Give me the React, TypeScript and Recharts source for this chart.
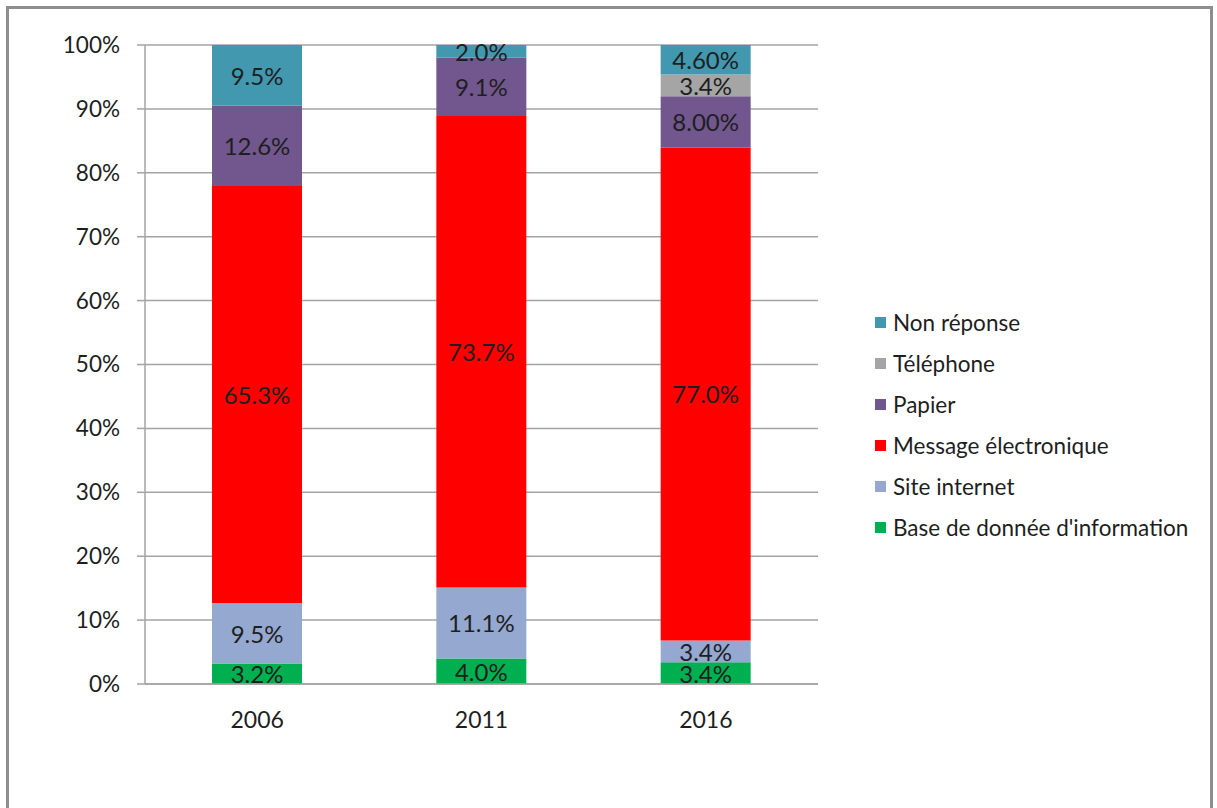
import React from 'react';
import { ComposedChart, Bar, XAxis, YAxis, CartesianGrid, LabelList, Legend } from 'recharts';

const years = ['2006', '2011', '2016'];
const baseInfo = [3.2, 4.0, 3.4];
const siteInternet = [9.5, 11.1, 3.4];
const message = [65.3, 73.7, 77.0];
const papier = [12.6, 9.1, 8.0];
const telephone = [0, 0, 3.4];
const nonReponse = [9.5, 2.0, 4.6];

const baseLabels = ['3.2%', '4.0%', '3.4%'];
const siteLabels = ['9.5%', '11.1%', '3.4%'];
const messageLabels = ['65.3%', '73.7%', '77.0%'];
const papierLabels = ['12.6%', '9.1%', '8.00%'];
const telephoneLabels = ['', '', '3.4%'];
const nonReponseLabels = ['9.5%', '2.0%', '4.60%'];

const yTicks = [0, 0.1, 0.2, 0.3, 0.4, 0.5, 0.6, 0.7, 0.8, 0.9, 1];

const series = [
  { key: 'base', name: "Base de donnée d'information", color: '#00B050', values: baseInfo, labels: baseLabels },
  { key: 'site', name: 'Site internet', color: '#94A8D0', values: siteInternet, labels: siteLabels },
  { key: 'message', name: 'Message électronique', color: '#FF0000', values: message, labels: messageLabels },
  { key: 'papier', name: 'Papier', color: '#71578E', values: papier, labels: papierLabels },
  { key: 'telephone', name: 'Téléphone', color: '#A5A5A5', values: telephone, labels: telephoneLabels },
  { key: 'nonrep', name: 'Non réponse', color: '#4198AF', values: nonReponse, labels: nonReponseLabels },
];

const data = years.map((y, i) => {
  const row: any = { year: y };
  series.forEach((s) => {
    row[s.key] = s.values[i];
    row[s.key + '_label'] = s.labels[i];
  });
  return row;
});

const FONT = 'Lato, "Open Sans", sans-serif';

const renderLabel = (props: any) => {
  const { x, y, width, height, value } = props;
  if (!value || typeof value !== 'string' || !height) return null;
  return (
    <text
      x={x + width / 2}
      y={y + height / 2}
      textAnchor="middle"
      dominantBaseline="central"
      fontFamily={FONT}
      fontSize={24}
      fill="#1e1e1e"
    >
      {value}
    </text>
  );
};

const CatTick = (props: any) => {
  const { x, y, payload } = props;
  return (
    <text x={x} y={y + 43} textAnchor="middle" fontFamily={FONT} fontSize={23} fill="#1e1e1e">
      {payload.value}
    </text>
  );
};

const LegendContent = () => (
  <div style={{ fontFamily: FONT, fontSize: 22.5, color: '#1e1e1e' }}>
    {[...series].reverse().map((s) => (
      <div key={s.key} style={{ display: 'flex', alignItems: 'center', height: 41 }}>
        <span style={{ display: 'inline-block', width: 11, height: 11, background: s.color, marginRight: 7 }} />
        <span style={{ whiteSpace: 'nowrap' }}>{s.name}</span>
      </div>
    ))}
  </div>
);

export default function App() {
  return (
    <div style={{ position: 'absolute', left: 0, top: 0, width: 1217, height: 808, overflow: 'hidden', background: '#fff' }}>
      <div
        style={{
          position: 'absolute',
          left: 6,
          top: 6,
          width: 1201,
          height: 900,
          border: '3px solid #8e8e8e',
        }}
      />
      <div style={{ position: 'absolute', left: 0, top: 0 }}>
        <ComposedChart
          width={1217}
          height={808}
          data={data}
          stackOffset="expand"
          margin={{ top: 45, right: 399, bottom: 63, left: 0 }}
        >
          <CartesianGrid xAxisId="cat" vertical={false} stroke="#a3a3a3" strokeWidth={1.5} />
          <XAxis
            xAxisId="b"
            type="number"
            domain={[0, 3]}
            ticks={[0, 1, 2, 3]}
            allowDataOverflow
            height={1}
            tick={false}
            tickSize={8}
            axisLine={{ stroke: '#a3a3a3', strokeWidth: 1.5 }}
            tickLine={{ stroke: '#a3a3a3', strokeWidth: 1.5 }}
          />
          <XAxis
            xAxisId="cat"
            dataKey="year"
            height={60}
            axisLine={false}
            tickLine={false}
            tickSize={0}
            tickMargin={0}
            tick={<CatTick />}
          />
          <YAxis
            width={145}
            domain={[0, 1]}
            ticks={yTicks}
            allowDataOverflow
            tickFormatter={(v: number) => `${Math.round(v * 100)}%`}
            tick={{ fontFamily: FONT, fontSize: 22.5, fill: '#1e1e1e' }}
            tickSize={8}
            tickMargin={17}
            axisLine={{ stroke: '#a3a3a3', strokeWidth: 1.5 }}
            tickLine={{ stroke: '#a3a3a3', strokeWidth: 1.5 }}
          />
          <Legend
            layout="horizontal"
            verticalAlign="middle"
            align="center"
            content={<LegendContent />}
            wrapperStyle={{ position: 'absolute', left: 875, top: 302, width: 336 }}
          />
          {series.map((s) => (
            <Bar
              key={s.key}
              xAxisId="cat"
              dataKey={s.key}
              name={s.name}
              stackId="a"
              fill={s.color}
              barSize={90}
              isAnimationActive={false}
            >
              <LabelList dataKey={s.key + '_label'} content={renderLabel} />
            </Bar>
          ))}
        </ComposedChart>
      </div>
    </div>
  );
}
